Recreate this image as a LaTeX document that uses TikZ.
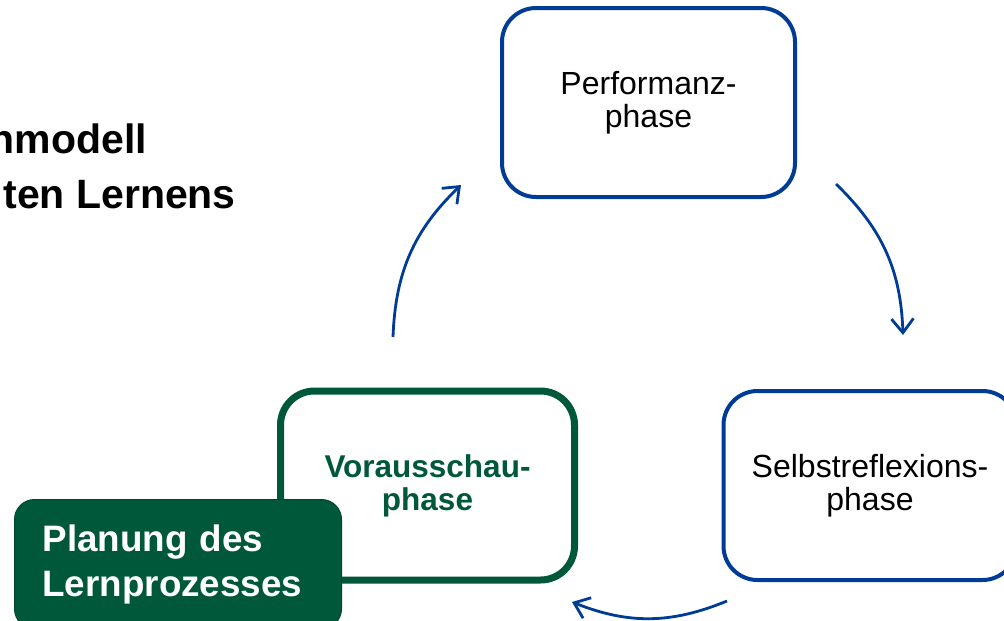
\documentclass[tikz,border=0pt]{standalone}
\usepackage{fontspec}
\setmainfont{Liberation Sans}
\usetikzlibrary{arrows.meta}
\definecolor{cblue}{HTML}{003C96}
\definecolor{cgreen}{HTML}{00583A}
\tikzset{
  phasebox/.style={draw=cblue, line width=4pt, rounded corners=34pt, fill=white,
    minimum width=293pt, minimum height=189pt, inner sep=0pt, outer sep=0pt,
    align=center, font=\fontsize{32}{33}\selectfont},
  greenbox/.style={phasebox, draw=cgreen, line width=7pt, text=cgreen,
    font=\fontsize{31.5}{33}\selectfont\bfseries},
  planbox/.style={draw=cgreen!80!black, line width=1pt, fill=cgreen, rounded corners=20pt,
    anchor=north west, text=white, text width=271pt, align=left,
    inner xsep=28pt, inner ysep=25pt, font=\fontsize{36.8}{45}\selectfont\bfseries},
  titletext/.style={anchor=base east, inner sep=0pt, font=\fontsize{41}{47}\selectfont\bfseries},
  cyclearrow/.style={draw=cblue, line width=2.8pt, bend left=22,
    -{Straight Barb[length=14pt,width=22pt]}}
}
\begin{document}
\begin{tikzpicture}[x=1pt,y=-1pt]
\useasboundingbox (0,0) rectangle (1004,621);
\node[titletext] (t1) at (147,153) {nmodell};
\node[titletext] (t2) at (236,208) {ten Lernens};
\node[phasebox] (perf) at (648.5,102.5) {Performanz-\\phase};
\node[phasebox] (selb) at (870,485.5) {Selbstreflexions-\\phase};
\node[greenbox, minimum width=294pt] (vor) at (427.5,485.5) {Vorausschau-\\phase};
\node[planbox] (plan) at (14,499) {Planung des\\Lernprozesses};
\coordinate (a1s) at (393,337);
\coordinate (a1e) at (461,185);
\coordinate (a2s) at (836,184);
\coordinate (a2e) at (903,335);
\coordinate (a3s) at (727,601);
\coordinate (a3e) at (572,602);
\draw[cyclearrow] (a1s) to (a1e);
\draw[cyclearrow] (a2s) to (a2e);
\draw[cyclearrow] (a3s) to (a3e);
\end{tikzpicture}
\end{document}
